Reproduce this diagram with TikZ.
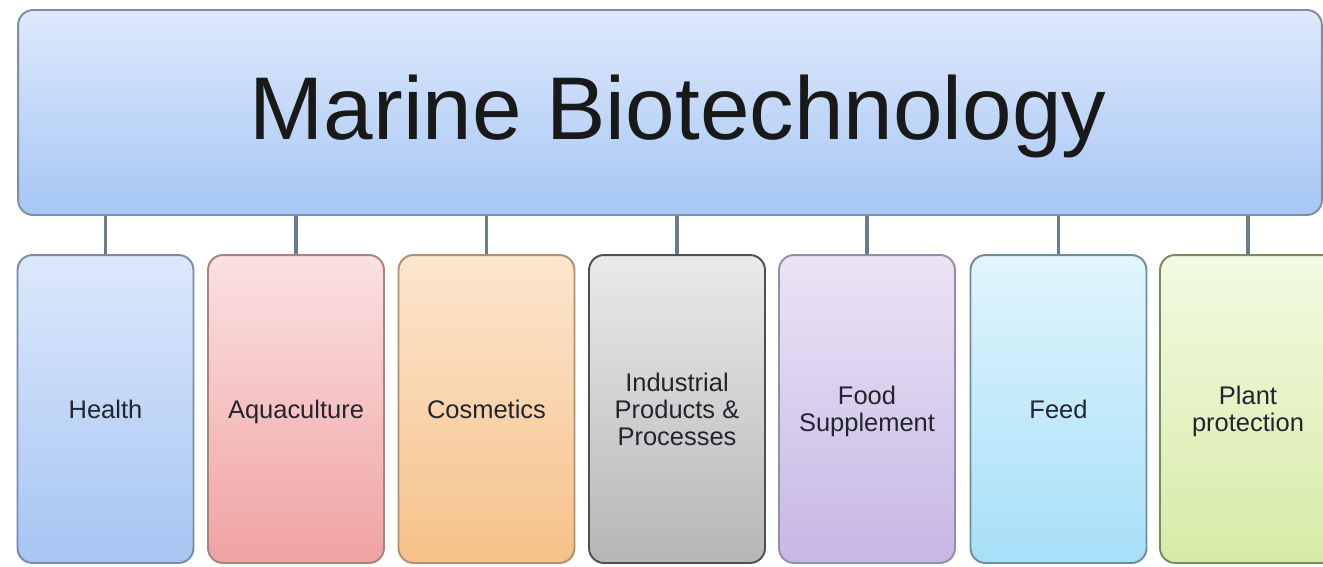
\documentclass[tikz,border=0pt]{standalone}
\usepackage{fontspec}
\setmainfont{Liberation Sans}
\usepackage{tikz}
\usetikzlibrary{positioning}

\definecolor{txtdark}{HTML}{22252E}
\definecolor{linkgray}{HTML}{6A7B8C}
% box colours: border, top, bottom
\definecolor{marineline}{HTML}{7F8FA3}\definecolor{marinetop}{HTML}{DEE9FB}\definecolor{marinebot}{HTML}{A6C6F5}
\definecolor{healthline}{HTML}{788CA5}\definecolor{healthtop}{HTML}{DCE8FB}\definecolor{healthbot}{HTML}{A6C5F2}
\definecolor{aqualine}{HTML}{AA8282}\definecolor{aquatop}{HTML}{FBE1E1}\definecolor{aquabot}{HTML}{F0A2A2}
\definecolor{cosmline}{HTML}{AF916E}\definecolor{cosmtop}{HTML}{FCE6CE}\definecolor{cosmbot}{HTML}{F6C188}
\definecolor{indline}{HTML}{505050}\definecolor{indtop}{HTML}{EAEAEA}\definecolor{indbot}{HTML}{B6B6B6}
\definecolor{foodline}{HTML}{968CAF}\definecolor{foodtop}{HTML}{EAE4F5}\definecolor{foodbot}{HTML}{C6B7E5}
\definecolor{feedline}{HTML}{6E8C9B}\definecolor{feedtop}{HTML}{E1F5FC}\definecolor{feedbot}{HTML}{A6DFF8}
\definecolor{plantline}{HTML}{788C5F}\definecolor{planttop}{HTML}{F3FAE2}\definecolor{plantbot}{HTML}{D6EBA7}

\tikzset{
	topbox/.style={shape=rectangle, rounded corners=0.3cm, draw=marineline, line width=1.1pt,
		top color=marinetop, bottom color=marinebot, text=black!90, text depth=5.7pt,
		minimum width=26.08cm, minimum height=4.1cm, inner sep=0pt},
	areabox/.style={shape=rectangle, rounded corners=0.3cm, line width=1.1pt,
		draw=#1line, top color=#1top, bottom color=#1bot,
		minimum width=3.52cm, minimum height=6.16cm, inner sep=0pt, align=center,
		text=txtdark, font=\fontsize{14.5}{15.3}\selectfont, text depth=0pt},
	link/.style={draw=linkgray, line width=2.1pt}
}

\begin{document}
\begin{tikzpicture}[x=0.02cm, y=-0.02cm]

	\clip (0,0) rectangle (1323,566);
	\fill[white] (0,0) rectangle (1323,566);

	\node[topbox, font=\fontsize{50.7}{55}\selectfont] (Marine) at (670, 112.5) {\hspace*{0.32cm}Marine Biotechnology};

	\node[areabox=health] (Health) at (105.5, 409) {Health};
	\node[areabox=aqua] (Aquaculture) at (296, 409) {Aquaculture};
	\node[areabox=cosm] (Cosmetics) at (486.5, 409) {Cosmetics};
	\node[areabox=ind] (Industrial) at (677, 409) {Industrial\\Products \&\\Processes};
	\node[areabox=food] (Food) at (867, 409) {Food\\Supplement};
	\node[areabox=feed] (Feed) at (1058.5, 409) {Feed};
	\node[areabox=plant] (Plant) at (1248, 409) {Plant\\protection};

	\foreach \area in {Health, Aquaculture, Cosmetics, Industrial, Food, Feed, Plant}
		\draw[link] (Marine.south -| \area.north) -- (\area.north);

\end{tikzpicture}
\end{document}
